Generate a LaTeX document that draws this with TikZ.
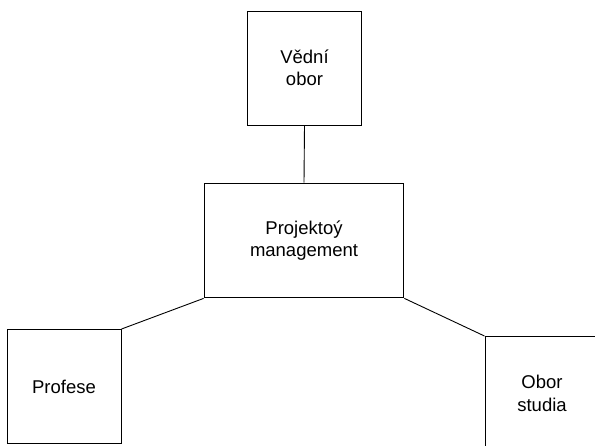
\documentclass[tikz,border=0pt]{standalone}
\usepackage{fontspec}
\setmainfont{Liberation Sans}
\begin{document}
\begin{tikzpicture}[x=1pt,y=1pt,
  box/.style={draw, line width=0.9pt, align=center, inner sep=0pt,
    minimum width=114pt, minimum height=114pt,
    font=\fontsize{18.5}{22.5}\selectfont},
  mainbox/.style={box, line width=1.8pt, minimum width=199pt},
  link/.style={line width=0.9pt}]
\useasboundingbox (0,0) rectangle (595,446);
\clip (0,0) rectangle (595,446);
\node[box] (vedni) at (304.5,378) {Vědní\\obor};
\node[mainbox] (pm) at (304,205.5) {Projektoý\\management};
\node[box] (profese) at (64,59.5) {Profese};
\node[box] (obor) at (542,52.5) {Obor\\studia};
\draw[link] (vedni.south) -- (pm.north);
\draw[link] (pm.south west) -- (profese.north east);
\draw[link] (pm.south east) -- (obor.north west);
\end{tikzpicture}
\end{document}
